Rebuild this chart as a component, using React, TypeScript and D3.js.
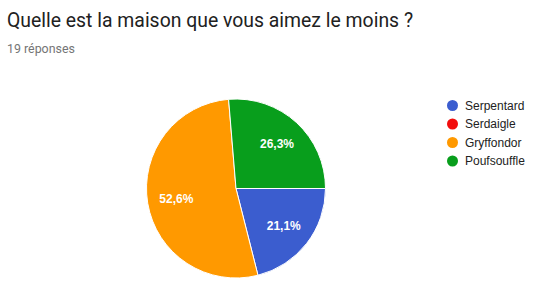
import React from "react";
import * as d3 from "d3";

const title = "Quelle est la maison que vous aimez le moins ?";
const subtitle = "19 réponses";
const categories = ["Serpentard", "Serdaigle", "Gryffondor", "Poufsouffle"];
const counts = [4, 0, 10, 5];
const colors = ["#3b5dcf", "#f20d0d", "#ff9900", "#089e1c"];
const labels = ["21,1%", "", "52,6%", "26,3%"];

export default function App() {
  const W = 545, H = 295;
  const cx = 236, cy = 188.5, R = 89.5;
  const start = Math.PI / 2;
  const pie = d3.pie<number>().sort(null).value((d) => d).startAngle(start).endAngle(start + 2 * Math.PI);
  const arcs = pie(counts);
  const arc = d3.arc<d3.PieArcDatum<number>>().innerRadius(0).outerRadius(R);
  const labelArc = d3.arc<d3.PieArcDatum<number>>().innerRadius(60.5 * 2 - R).outerRadius(R);
  const legendY = d3.scalePoint<string>().domain(categories).range([105.5, 161]);

  return (
    <svg width={W} height={H} style={{ position: "absolute", left: 0, top: 0, display: "block" }}>
      <rect width={W} height={H} fill="#fff" />
      <text x={7} y={27} fontFamily="Roboto, sans-serif" fontSize={19.4} fill="#212121">{title}</text>
      <text x={7} y={53} fontFamily="Roboto, sans-serif" fontSize={12.4} fill="#757575">{subtitle}</text>
      <g transform={`translate(${cx},${cy})`}>
        {arcs.map((a, i) => a.value > 0 ? (
          <path key={i} d={arc(a) || ""} fill={colors[i]} stroke="#fff" strokeWidth={1} />
        ) : null)}
        {arcs.map((a, i) => {
          if (a.value <= 0) return null;
          const [x, y] = labelArc.centroid(a);
          return (
            <text key={"l" + i} x={x} y={y} dy="0.36em" textAnchor="middle" fontFamily="'Liberation Sans', Arial, sans-serif" fontWeight="bold" fontSize={12} fill="#fff">{labels[i]}</text>
          );
        })}
      </g>
      <g>
        {categories.map((c, i) => (
          <g key={c} transform={`translate(452.5,${legendY(c)})`}>
            <circle r={5.5} fill={colors[i]} />
            <text x={12.5} dy="0.36em" fontFamily="'Liberation Sans', Arial, sans-serif" fontSize={12} fill="#222">{c}</text>
          </g>
        ))}
      </g>
    </svg>
  );
}
